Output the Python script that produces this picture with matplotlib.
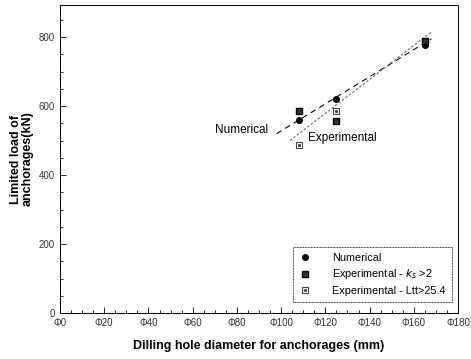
import numpy as np
import matplotlib
matplotlib.use("Agg")
import matplotlib.pyplot as plt
from matplotlib.ticker import MultipleLocator
from matplotlib.legend_handler import HandlerTuple

# drilling hole diameter (mm) and limit load (kN)
diam = [108, 125, 165]
numerical = [560, 620, 778]
exp_ks = [586, 557, 790]
exp_ltt = [488, 586, 784]

# trend lines for the two groups
num_fit_x = [98, 168]
num_fit_y = [520, 795]
exp_fit_x = [104, 168]
exp_fit_y = [500, 815]

xticks = list(range(0, 181, 20))
xlabels = ["\u03a6%d" % v for v in xticks]

plt.rcParams["font.family"] = ["Liberation Sans", "DejaVu Sans"]

fig = plt.figure(figsize=(4.71, 3.59), dpi=100)
ax = fig.add_axes([60 / 471, 1 - 313 / 359, 398 / 471, 308 / 359])

ax.plot(num_fit_x, num_fit_y, color="black", lw=0.8, ls=(0, (5, 4)), zorder=2)
ax.plot(exp_fit_x, exp_fit_y, color="#777777", lw=0.9, ls=(0, (2, 1.5)), zorder=2)

h1, = ax.plot(diam, numerical, ls="none", marker="o", ms=4, color="black",
              mec="black", zorder=4)
h2, = ax.plot(diam, exp_ks, ls="none", marker="s", ms=4.2, mfc="#333333",
              mec="black", zorder=4)
h3a, = ax.plot(diam, exp_ltt, ls="none", marker="s", ms=4.5, mfc="white",
               mec="#444444", mew=0.8, zorder=3)
h3b, = ax.plot(diam, exp_ltt, ls="none", marker=".", ms=2.5, color="#444444", zorder=3)

ax.text(82, 530, "Numerical", fontsize=8.5, ha="center", va="center")
ax.text(112, 507, "Experimental", fontsize=8.5, ha="left", va="center")

ax.set_xlim(0, 180)
ax.set_ylim(0, 893)
ax.set_xticks(xticks)
ax.set_xticklabels(xlabels)
ax.yaxis.set_major_locator(MultipleLocator(200))
ax.xaxis.set_minor_locator(MultipleLocator(5))
ax.yaxis.set_minor_locator(MultipleLocator(50))
ax.tick_params(which="both", direction="in", top=False, right=False,
               labelsize=7, labelcolor="#333333", width=0.6)
ax.tick_params(which="major", length=4)
ax.tick_params(which="minor", length=2)
for s in ax.spines.values():
    s.set_linewidth(0.7)
    s.set_linestyle((0, (1, 0.6)))

ax.set_xlabel("Dilling hole diameter for anchorages (mm)", fontsize=9,
              fontweight="bold", labelpad=9)
ax.set_ylabel("Limited load of\nanchorages(kN)", fontsize=9,
              fontweight="bold", labelpad=4, linespacing=0.95)

leg = ax.legend([h1, h2, (h3a, h3b)],
                ["Numerical", "Experimental - $k_s$ >2", "Experimental - Ltt>25.4"],
                handler_map={tuple: HandlerTuple(ndivide=1)},
                loc="lower right", bbox_to_anchor=(0.985, 0.035), fontsize=7.8,
                frameon=True, fancybox=False, edgecolor="black",
                handlelength=1.0, handletextpad=2.0, borderpad=0.6,
                labelspacing=0.4, borderaxespad=0)
leg.get_frame().set_linewidth(0.7)
leg.get_frame().set_linestyle((0, (1, 0.6)))

fig.savefig("out.png", dpi=100)
